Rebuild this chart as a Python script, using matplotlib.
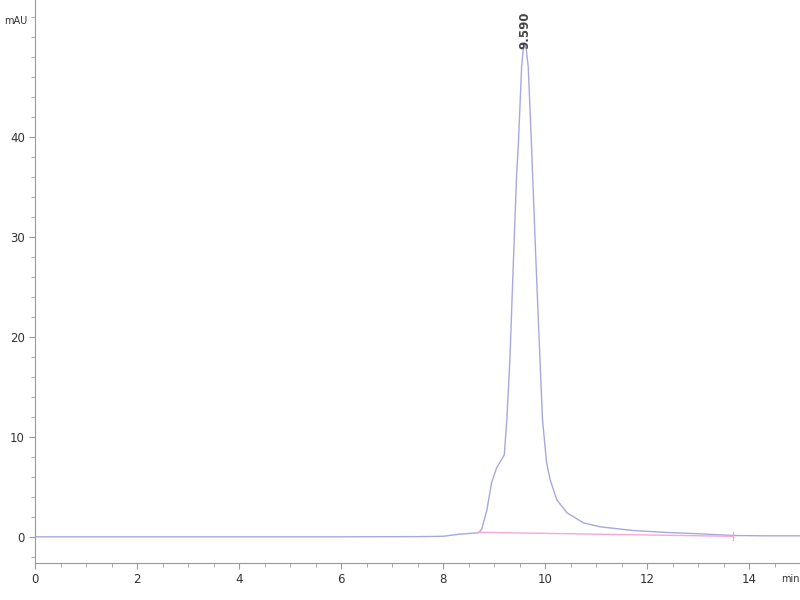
import numpy as np
import matplotlib
matplotlib.use("Agg")
import matplotlib.pyplot as plt
from matplotlib.ticker import MultipleLocator

# chromatogram trace (min, mAU)
t = [0.0, 2.0, 4.0, 6.0, 7.5, 8.0, 8.3, 8.6, 8.7, 8.76, 8.86, 8.95, 9.05, 9.12,
     9.2, 9.25, 9.31, 9.38, 9.44, 9.48, 9.54, 9.57, 9.60, 9.63, 9.67, 9.73, 9.78,
     9.82, 9.9, 9.95, 10.03, 10.1, 10.23, 10.43, 10.75, 11.08, 11.73, 12.4, 13.04,
     13.7, 14.3, 15.0]
mau = [0.0, 0.0, 0.0, 0.0, 0.02, 0.05, 0.25, 0.37, 0.4, 0.8, 2.7, 5.4, 6.9, 7.5,
       8.2, 11.7, 17.7, 27.7, 36.0, 39.7, 47.0, 48.7, 49.3, 48.8, 47.0, 39.7, 33.0,
       27.7, 17.7, 11.7, 7.4, 5.7, 3.7, 2.4, 1.4, 1.0, 0.63, 0.43, 0.3,
       0.13, 0.1, 0.1]

# integration baseline
base_t = [8.68, 13.68]
base_y = [0.45, 0.05]

peak_rt = 9.60
peak_label = "9.590"

fig = plt.figure(figsize=(8, 6), dpi=100)
ax = fig.add_axes([0.044, 0.062, 0.956, 0.938])

ax.plot(t, mau, color="#a8a8e0", lw=1.0)
ax.plot(base_t, base_y, color="#f4a8d8", lw=1.0)
ax.plot([base_t[1], base_t[1]], [base_y[1] - 0.4, base_y[1] + 0.4], color="#f4a8d8", lw=1.0)

ax.text(peak_rt, 52.5, peak_label, rotation=90, ha="center", va="top",
        fontsize=8.5, color="#444444", fontweight="bold")

ax.set_xlim(0, 15)
ax.set_ylim(-2.6, 53.7)
ax.xaxis.set_major_locator(MultipleLocator(2))
ax.xaxis.set_minor_locator(MultipleLocator(0.5))
ax.set_yticks([0, 10, 20, 30, 40])
ax.yaxis.set_minor_locator(MultipleLocator(2))

for s in ["top", "right"]:
    ax.spines[s].set_visible(False)
for s in ["left", "bottom"]:
    ax.spines[s].set_color("#999999")
ax.tick_params(axis="both", which="both", colors="#999999", labelcolor="#333333",
               labelsize=8.5, direction="out")
ax.tick_params(axis="both", which="major", length=4)
ax.tick_params(axis="both", which="minor", length=3)

fig.text(0.005, 0.965, "mAU", fontsize=7, color="#333333", ha="left", va="center")
fig.text(0.999, 0.035, "min", fontsize=7, color="#333333", ha="right", va="center")

fig.savefig("out.png", dpi=100)
